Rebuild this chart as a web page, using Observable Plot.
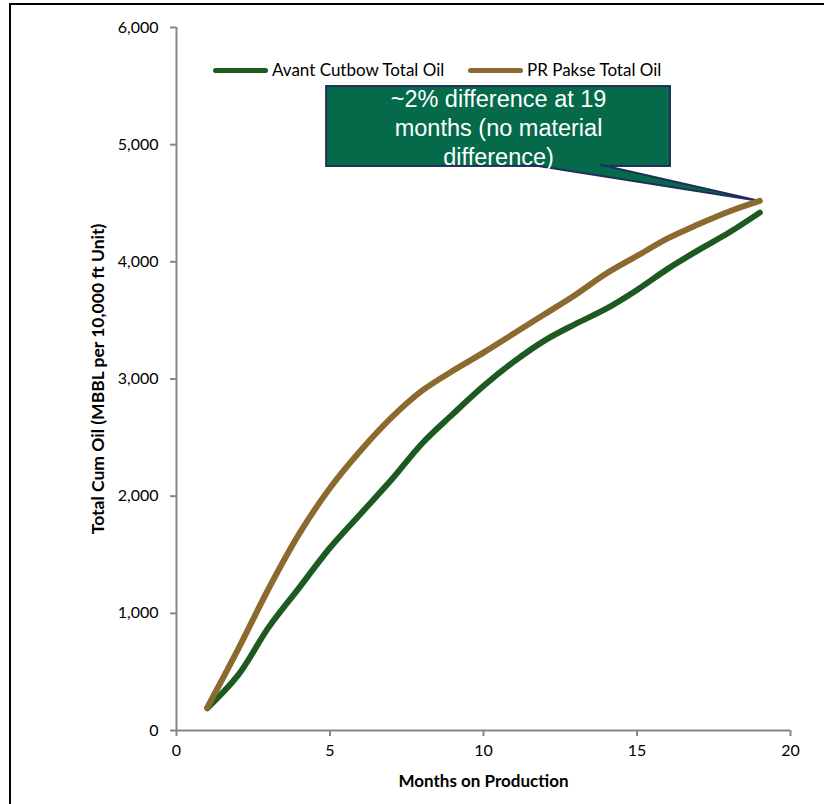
<!DOCTYPE html>
<html>
<head>
<meta charset="utf-8">
<script src="https://cdn.jsdelivr.net/npm/d3@7"></script>
<script src="https://cdn.jsdelivr.net/npm/@observablehq/plot@0.6"></script>
<style>
  html, body { margin: 0; padding: 0; background: #fff; }
  #wrap { position: relative; width: 824px; height: 804px; overflow: hidden; }
  #frame { position: absolute; left: 9px; top: 3px; width: 900px; height: 900px;
           border-left: 2px solid #000; border-top: 2px solid #000; pointer-events: none; }
  .leg { position: absolute; top: 59px; font-family: Lato, "Open Sans", sans-serif; font-size: 17px; color: #000; white-space: nowrap; }
  .sw { position: absolute; height: 5px; border-radius: 3px; }
</style>
</head>
<body>
<div id="wrap"><div id="frame"></div></div>
<script>
const months = [1,2,3,4,5,6,7,8,9,10,11,12,13,14,15,16,17,18,19];
const avantCutbow = [190,470,880,1220,1560,1850,2140,2450,2700,2940,3150,3330,3470,3600,3760,3940,4100,4250,4420];
const prPakse     = [195,690,1210,1680,2070,2390,2670,2900,3070,3225,3390,3555,3720,3900,4050,4200,4320,4430,4520];
const seriesNames = ["Avant Cutbow Total Oil", "PR Pakse Total Oil"];
const seriesColors = ["#1d5a20", "#8c6a2f"];
const xTicks = [0,5,10,15,20];
const yTicks = [0,1000,2000,3000,4000,5000,6000];
const calloutText = "~2% difference at 19\nmonths (no material\ndifference)";
const calloutBox = {x1: 4.89, x2: 16.09, y1: 4814, y2: 5496};
const pointerBase = [11.53, 13.81];

const rows = [];
months.forEach((m, i) => {
  rows.push({month: m, value: avantCutbow[i], series: seriesNames[0]});
  rows.push({month: m, value: prPakse[i], series: seriesNames[1]});
});
const tip = {x: months[months.length-1], y: prPakse[prPakse.length-1]};
const baseY = calloutBox.y1 + 15;
const pointer = [
  {x: pointerBase[0], y: baseY},
  {x: tip.x, y: tip.y},
  {x: pointerBase[1], y: baseY}
];

const chart = Plot.plot({
  width: 824,
  height: 804,
  marginLeft: 176,
  marginRight: 34,
  marginTop: 27,
  marginBottom: 74,
  style: {fontFamily: "Lato, 'Open Sans', sans-serif", fontSize: "16px", color: "#000", background: "transparent"},
  x: {type: "linear", domain: [0, 20], label: null},
  y: {type: "linear", domain: [0, 6000], label: null},
  color: {domain: seriesNames, range: seriesColors},
  marks: [
    Plot.ruleY([0], {stroke: "#868686", strokeWidth: 2}),
    Plot.ruleX([0], {stroke: "#868686", strokeWidth: 2}),
    Plot.axisX({ticks: xTicks, tickSize: 6, stroke: "#868686", strokeWidth: 2, strokeOpacity: 1, tickPadding: 8, fontSize: 16, label: null}),
    Plot.axisY({ticks: yTicks, tickSize: 6, stroke: "#868686", strokeWidth: 2, strokeOpacity: 1, tickPadding: 12, fontSize: 16, tickFormat: d3.format(","), label: null}),
    Plot.text(["Months on Production"], {frameAnchor: "bottom", dy: 56, fontWeight: "bold", fontSize: 17}),
    Plot.text(["Total Cum Oil (MBBL per 10,000 ft Unit)"], {frameAnchor: "left", dx: -78, rotate: -90, textAnchor: "middle", fontWeight: "bold", fontSize: 17.5}),
    // callout
    Plot.rect([calloutBox], {x1: "x1", x2: "x2", y1: "y1", y2: "y2", fill: "#046a4a", stroke: "#1f2f5a", strokeWidth: 2}),
    Plot.line(pointer, {x: "x", y: "y", fill: "#046a4a", stroke: "#1f2f5a", strokeWidth: 2, strokeLinejoin: "miter"}),
    Plot.text([calloutBox], {x: d => (d.x1 + d.x2) / 2, y: d => (d.y1 + d.y2) / 2, text: () => calloutText,
      fill: "#fff", fontSize: 23.5, fontFamily: "'Liberation Sans', Arial, sans-serif", lineHeight: 1.25, lineAnchor: "middle"}),
    // series
    Plot.line(rows, {x: "month", y: "value", z: "series", stroke: "series", strokeWidth: 6, curve: "catmull-rom"})
  ]
});
const wrap = document.getElementById("wrap");
wrap.appendChild(chart);
chart.style.position = "absolute";
chart.style.left = "0px";
chart.style.top = "0px";

const legendItems = [
  {name: seriesNames[0], color: seriesColors[0], swX: 213, txX: 272},
  {name: seriesNames[1], color: seriesColors[1], swX: 468, txX: 527}
];
legendItems.forEach(it => {
  const sw = document.createElement("div");
  sw.className = "sw";
  sw.style.left = it.swX + "px"; sw.style.top = "68px"; sw.style.width = "55px"; sw.style.background = it.color;
  wrap.appendChild(sw);
  const tx = document.createElement("div");
  tx.className = "leg";
  tx.style.left = it.txX + "px";
  tx.textContent = it.name;
  wrap.appendChild(tx);
});
</script>
</body>
</html>
